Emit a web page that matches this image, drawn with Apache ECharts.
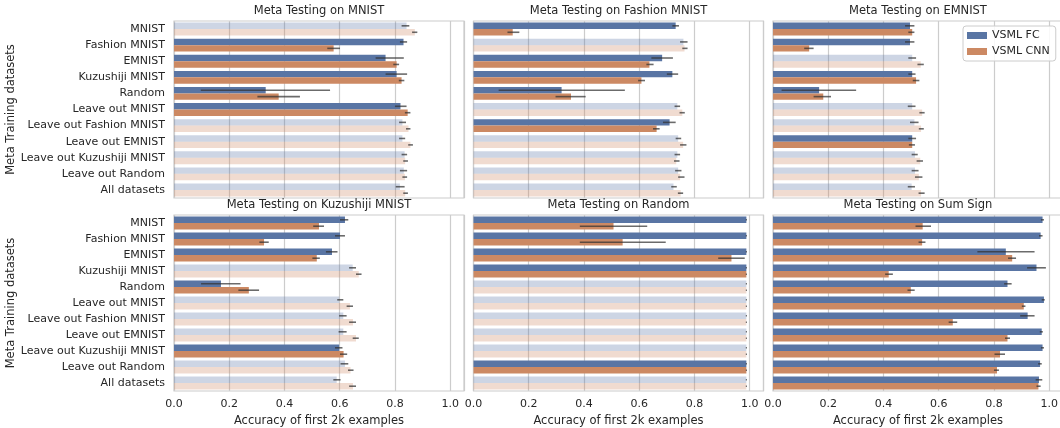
<!DOCTYPE html>
<html>
<head>
<meta charset="utf-8">
<script src="https://cdn.jsdelivr.net/npm/echarts@6/dist/echarts.min.js"></script>
<style>
html,body{margin:0;padding:0;background:#fff;overflow:hidden;}
#chart{width:1066px;height:428px;}
</style>
</head>
<body>
<div id="chart"></div>
<script>
const categories = ['MNIST','Fashion MNIST','EMNIST','Kuzushiji MNIST','Random','Leave out MNIST','Leave out Fashion MNIST','Leave out EMNIST','Leave out Kuzushiji MNIST','Leave out Random','All datasets'];
const panelTitles = ['Meta Testing on MNIST','Meta Testing on Fashion MNIST','Meta Testing on EMNIST','Meta Testing on Kuzushiji MNIST','Meta Testing on Random','Meta Testing on Sum Sign'];
const seriesNames = ['VSML FC','VSML CNN'];
const xTicks = [0.0,0.2,0.4,0.6,0.8,1.0];

// Meta Testing on MNIST
const mnistFC     = [0.842,0.831,0.766,0.806,0.332,0.820,0.827,0.827,0.835,0.832,0.818];
const mnistFCLo   = [0.824,0.818,0.730,0.766,0.097,0.800,0.815,0.815,0.824,0.818,0.803];
const mnistFCHi   = [0.852,0.844,0.832,0.844,0.565,0.842,0.840,0.837,0.844,0.844,0.835];
const mnistCNN    = [0.872,0.578,0.806,0.824,0.379,0.846,0.849,0.856,0.837,0.836,0.837];
const mnistCNNLo  = [0.862,0.555,0.794,0.814,0.302,0.836,0.840,0.848,0.830,0.827,0.830];
const mnistCNNHi  = [0.881,0.601,0.815,0.834,0.456,0.856,0.856,0.865,0.847,0.844,0.847];
const mnistFaded  = [1,0,0,0,0,0,1,1,1,1,1];

// Meta Testing on Fashion MNIST
const fashionFC    = [0.732,0.760,0.683,0.720,0.319,0.738,0.710,0.741,0.738,0.741,0.724];
const fashionFCLo  = [0.720,0.748,0.644,0.700,0.091,0.728,0.686,0.732,0.728,0.730,0.716];
const fashionFCHi  = [0.744,0.775,0.722,0.741,0.548,0.748,0.732,0.752,0.748,0.753,0.736];
const fashionCNN   = [0.142,0.764,0.637,0.608,0.353,0.756,0.663,0.759,0.734,0.748,0.750];
const fashionCNNLo = [0.123,0.756,0.626,0.596,0.297,0.746,0.650,0.748,0.726,0.741,0.740];
const fashionCNNHi = [0.166,0.775,0.652,0.621,0.406,0.765,0.674,0.771,0.746,0.764,0.759];
const fashionFaded = [0,1,0,0,0,1,0,1,1,1,1];

// Meta Testing on EMNIST
const emnistFC    = [0.496,0.496,0.504,0.504,0.167,0.504,0.512,0.504,0.514,0.514,0.502];
const emnistFCLo  = [0.478,0.478,0.490,0.490,0.031,0.488,0.496,0.490,0.502,0.502,0.488];
const emnistFCHi  = [0.512,0.512,0.518,0.516,0.301,0.516,0.527,0.518,0.524,0.527,0.514];
const emnistCNN   = [0.504,0.131,0.535,0.518,0.182,0.540,0.536,0.504,0.533,0.528,0.536];
const emnistCNNLo = [0.490,0.113,0.523,0.506,0.147,0.530,0.528,0.492,0.520,0.514,0.527];
const emnistCNNHi = [0.512,0.147,0.546,0.530,0.210,0.549,0.546,0.514,0.543,0.541,0.549];
const emnistFaded = [0,0,1,0,0,1,1,0,1,1,1];

// Meta Testing on Kuzushiji MNIST
const kmnistFC    = [0.619,0.601,0.572,0.647,0.170,0.598,0.613,0.613,0.598,0.619,0.589];
const kmnistFCLo  = [0.601,0.583,0.550,0.634,0.098,0.591,0.598,0.596,0.583,0.603,0.577];
const kmnistFCHi  = [0.631,0.619,0.592,0.659,0.241,0.613,0.625,0.625,0.610,0.631,0.603];
const kmnistCNN   = [0.525,0.326,0.517,0.669,0.271,0.637,0.648,0.659,0.614,0.639,0.648];
const kmnistCNNLo = [0.504,0.309,0.501,0.659,0.233,0.625,0.634,0.647,0.601,0.630,0.634];
const kmnistCNNHi = [0.543,0.343,0.528,0.679,0.308,0.648,0.659,0.669,0.627,0.650,0.659];
const kmnistFaded = [0,0,0,1,0,1,1,1,0,1,1];

// Meta Testing on Random
const randomFC    = [0.988,0.988,0.988,0.988,0.988,0.988,0.988,0.988,0.988,0.988,0.988];
const randomFCLo  = [0.986,0.986,0.986,0.986,0.986,0.986,0.986,0.986,0.986,0.986,0.986];
const randomFCHi  = [0.990,0.990,0.990,0.990,0.990,0.990,0.990,0.990,0.990,0.990,0.990];
const randomCNN   = [0.507,0.540,0.934,0.988,0.988,0.988,0.988,0.988,0.988,0.988,0.988];
const randomCNNLo = [0.385,0.385,0.886,0.986,0.986,0.986,0.986,0.986,0.986,0.986,0.986];
const randomCNNHi = [0.629,0.696,0.982,0.990,0.990,0.990,0.990,0.990,0.990,0.990,0.990];
const randomFaded = [0,0,0,0,1,1,1,1,1,0,1];

// Meta Testing on Sum Sign
const sumFC    = [0.976,0.969,0.843,0.954,0.849,0.981,0.922,0.973,0.976,0.967,0.963];
const sumFCLo  = [0.970,0.963,0.740,0.920,0.837,0.973,0.895,0.966,0.970,0.960,0.951];
const sumFCHi  = [0.981,0.976,0.947,0.988,0.864,0.984,0.947,0.977,0.981,0.973,0.975];
const sumCNN   = [0.542,0.540,0.866,0.419,0.499,0.908,0.651,0.849,0.822,0.811,0.961];
const sumCNNLo = [0.516,0.527,0.851,0.406,0.487,0.901,0.636,0.840,0.802,0.800,0.954];
const sumCNNHi = [0.572,0.552,0.880,0.434,0.513,0.914,0.667,0.858,0.840,0.818,0.969];
const sumFaded = [0,0,0,0,0,0,0,0,0,0,0];

const panels = [
  {fc:mnistFC, fcLo:mnistFCLo, fcHi:mnistFCHi, cnn:mnistCNN, cnnLo:mnistCNNLo, cnnHi:mnistCNNHi, faded:mnistFaded},
  {fc:fashionFC, fcLo:fashionFCLo, fcHi:fashionFCHi, cnn:fashionCNN, cnnLo:fashionCNNLo, cnnHi:fashionCNNHi, faded:fashionFaded},
  {fc:emnistFC, fcLo:emnistFCLo, fcHi:emnistFCHi, cnn:emnistCNN, cnnLo:emnistCNNLo, cnnHi:emnistCNNHi, faded:emnistFaded},
  {fc:kmnistFC, fcLo:kmnistFCLo, fcHi:kmnistFCHi, cnn:kmnistCNN, cnnLo:kmnistCNNLo, cnnHi:kmnistCNNHi, faded:kmnistFaded},
  {fc:randomFC, fcLo:randomFCLo, fcHi:randomFCHi, cnn:randomCNN, cnnLo:randomCNNLo, cnnHi:randomCNNHi, faded:randomFaded},
  {fc:sumFC, fcLo:sumFCLo, fcHi:sumFCHi, cnn:sumCNN, cnnLo:sumCNNLo, cnnHi:sumCNNHi, faded:sumFaded}
];

const FONT = 'DejaVu Sans';
const TXT = '#262626';
const BLUE = '#5975a4', ORANGE = '#cc8963';
const BLUE_F = 'rgba(89,117,164,0.3)', ORANGE_F = 'rgba(204,137,99,0.3)';
const ERR = 'rgba(50,50,50,0.72)';

const colLeft = [174, 473.5, 773];
const rowTop = [21, 215];
const W = 290, H = 177;

const grids = [], xAxes = [], yAxes = [], series = [], graphics = [];

panels.forEach((p, i) => {
  const col = i % 3, row = Math.floor(i / 3);
  grids.push({left: colLeft[col], top: rowTop[row], width: W, height: H, show: true,
    borderColor: '#cccccc', borderWidth: 1.2, backgroundColor: 'transparent', containLabel: false});
  xAxes.push({type: 'value', gridIndex: i, min: 0, max: 1.05, interval: 0.2,
    axisLine: {show: false}, axisTick: {show: false},
    splitLine: {show: true, lineStyle: {color: '#cccccc', width: 1.2}},
    axisLabel: {show: row === 1, color: TXT, fontFamily: FONT, fontSize: 11, margin: 8,
      showMaxLabel: false,
      formatter: v => (xTicks.some(t => Math.abs(t - v) < 1e-6) ? v.toFixed(1) : '')},
    name: row === 1 ? 'Accuracy of first 2k examples' : '',
    nameLocation: 'middle', nameGap: 24,
    nameTextStyle: {color: TXT, fontFamily: FONT, fontSize: 11.5}
  });
  yAxes.push({type: 'category', gridIndex: i, data: categories, inverse: true,
    axisLine: {show: false}, axisTick: {show: false}, splitLine: {show: false},
    axisLabel: {show: col === 0, color: TXT, fontFamily: FONT, fontSize: 11, margin: 9},
    name: col === 0 ? 'Meta Training datasets' : '',
    nameLocation: 'middle', nameRotate: 90, nameGap: 152,
    nameTextStyle: {color: TXT, fontFamily: FONT, fontSize: 11.5}
  });
  series.push({name: seriesNames[0], type: 'bar', xAxisIndex: i, yAxisIndex: i,
    barGap: '0%', barCategoryGap: '20%', itemStyle: {color: BLUE},
    data: p.fc.map((v, k) => ({value: v, itemStyle: {color: p.faded[k] ? BLUE_F : BLUE}}))});
  series.push({name: seriesNames[1], type: 'bar', xAxisIndex: i, yAxisIndex: i,
    barGap: '0%', barCategoryGap: '20%', itemStyle: {color: ORANGE},
    data: p.cnn.map((v, k) => ({value: v, itemStyle: {color: p.faded[k] ? ORANGE_F : ORANGE}}))});
  [[p.fcLo, p.fcHi, -1], [p.cnnLo, p.cnnHi, 1]].forEach(([lo, hi, sign]) => {
    series.push({name: 'err', type: 'custom', xAxisIndex: i, yAxisIndex: i, z: 5,
      encode: {x: [1, 2], y: 0},
      data: categories.map((c, k) => [k, lo[k], hi[k]]),
      renderItem: (params, api) => {
        const k = api.value(0);
        const a = api.coord([api.value(1), k]);
        const b = api.coord([api.value(2), k]);
        const band = api.size([0, 1])[1];
        const off = sign * band * 0.2;
        return {type: 'line', shape: {x1: a[0], y1: a[1] + off, x2: b[0], y2: b[1] + off},
          style: {stroke: ERR, lineWidth: 1.6}};
      }
    });
  });
  graphics.push({type: 'text', x: colLeft[col] + W / 2, y: rowTop[row] - 10,
    style: {text: panelTitles[i], fill: TXT, font: '11.5px "DejaVu Sans"', textAlign: 'center', textVerticalAlign: 'middle'}});
});

const chart = echarts.init(document.getElementById('chart'), null, {renderer: 'canvas'});
chart.setOption({
  animation: false,
  backgroundColor: '#ffffff',
  grid: grids, xAxis: xAxes, yAxis: yAxes, series: series, graphic: graphics,
  legend: {data: seriesNames, orient: 'vertical', left: 963, top: 26,
    icon: 'rect', itemWidth: 20, itemHeight: 7, itemGap: 5,
    textStyle: {color: TXT, fontFamily: FONT, fontSize: 11},
    borderColor: '#cccccc', borderWidth: 1, borderRadius: 3,
    padding: [4, 6, 4, 4], backgroundColor: 'rgba(255,255,255,0.85)'}
});
</script>
</body>
</html>
